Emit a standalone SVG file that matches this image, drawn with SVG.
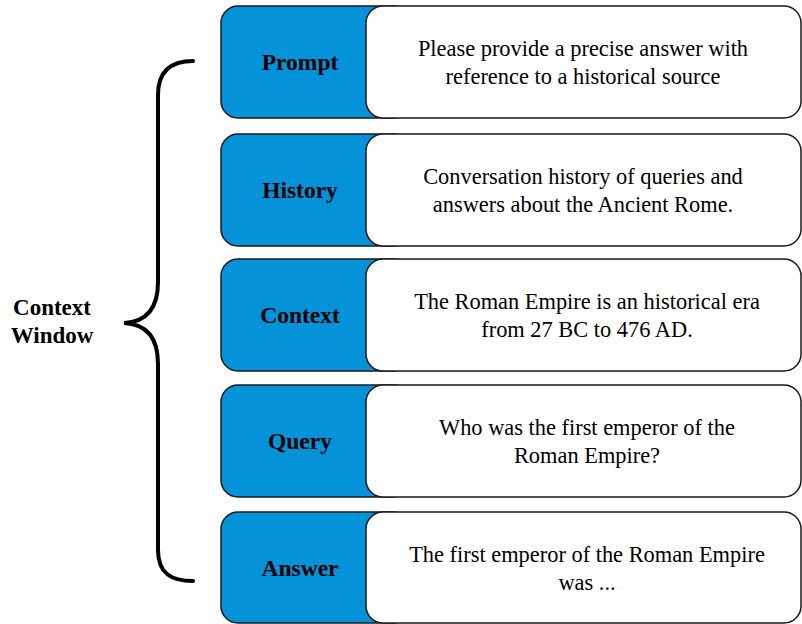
<svg xmlns="http://www.w3.org/2000/svg" width="802" height="624" viewBox="0 0 802 624">
  <style>
    .tag { fill: #0492D8; stroke: #1a1a1a; stroke-width: 1.5; }
    .body { fill: #ffffff; stroke: #1a1a1a; stroke-width: 1.5; }
    .label { font-family: "Liberation Serif", "Times New Roman", serif; font-weight: bold; font-size: 23.5px; fill: #000; text-anchor: middle; }
    .side { font-size: 23px; }
    .desc { font-family: "Liberation Serif", "Times New Roman", serif; font-size: 22.4px; fill: #000; text-anchor: middle; }
    .brace { fill: none; stroke: #000; stroke-width: 4; stroke-linecap: round; }
  </style>
  <rect width="802" height="624" fill="#ffffff"/>

  <!-- Brace grouping all rows -->
  <g id="context-window">
    <path class="brace" d="M193,61 C172,61 158,70 158,95 L158,282 C158,310 145,322 124,323 C145,324 158,336 158,364 L158,550 C158,574 172,581 193,581"/>
    <text class="label side" x="52" y="315">Context</text>
    <text class="label side" x="52" y="343">Window</text>
  </g>

  <g id="prompt">
    <rect class="tag" x="221" y="6" width="190" height="112" rx="17"/>
    <rect class="body" x="366" y="6" width="435" height="112" rx="17"/>
    <text class="label" x="300" y="70">Prompt</text>
    <text class="desc" x="583" y="56">Please provide a precise answer with</text>
    <text class="desc" x="583" y="84">reference to a historical source</text>
  </g>

  <g id="history">
    <rect class="tag" x="221" y="134" width="190" height="112" rx="17"/>
    <rect class="body" x="366" y="134" width="435" height="112" rx="17"/>
    <text class="label" x="300" y="198">History</text>
    <text class="desc" x="583" y="184">Conversation history of queries and</text>
    <text class="desc" x="583" y="212">answers about the Ancient Rome.</text>
  </g>

  <g id="context">
    <rect class="tag" x="221" y="259" width="190" height="112" rx="17"/>
    <rect class="body" x="366" y="259" width="435" height="112" rx="17"/>
    <text class="label" x="300" y="323">Context</text>
    <text class="desc" x="587" y="309">The Roman Empire is an historical era</text>
    <text class="desc" x="587" y="337">from 27 BC to 476 AD.</text>
  </g>

  <g id="query">
    <rect class="tag" x="221" y="385" width="190" height="112" rx="17"/>
    <rect class="body" x="366" y="385" width="435" height="112" rx="17"/>
    <text class="label" x="300" y="449">Query</text>
    <text class="desc" x="587" y="435">Who was the first emperor of the</text>
    <text class="desc" x="587" y="463">Roman Empire?</text>
  </g>

  <g id="answer">
    <rect class="tag" x="221" y="512" width="190" height="111" rx="17"/>
    <rect class="body" x="366" y="512" width="435" height="111" rx="17"/>
    <text class="label" x="300" y="576">Answer</text>
    <text class="desc" x="587" y="562">The first emperor of the Roman Empire</text>
    <text class="desc" x="587" y="590">was ...</text>
  </g>

  <g id="connectors"></g>
</svg>
